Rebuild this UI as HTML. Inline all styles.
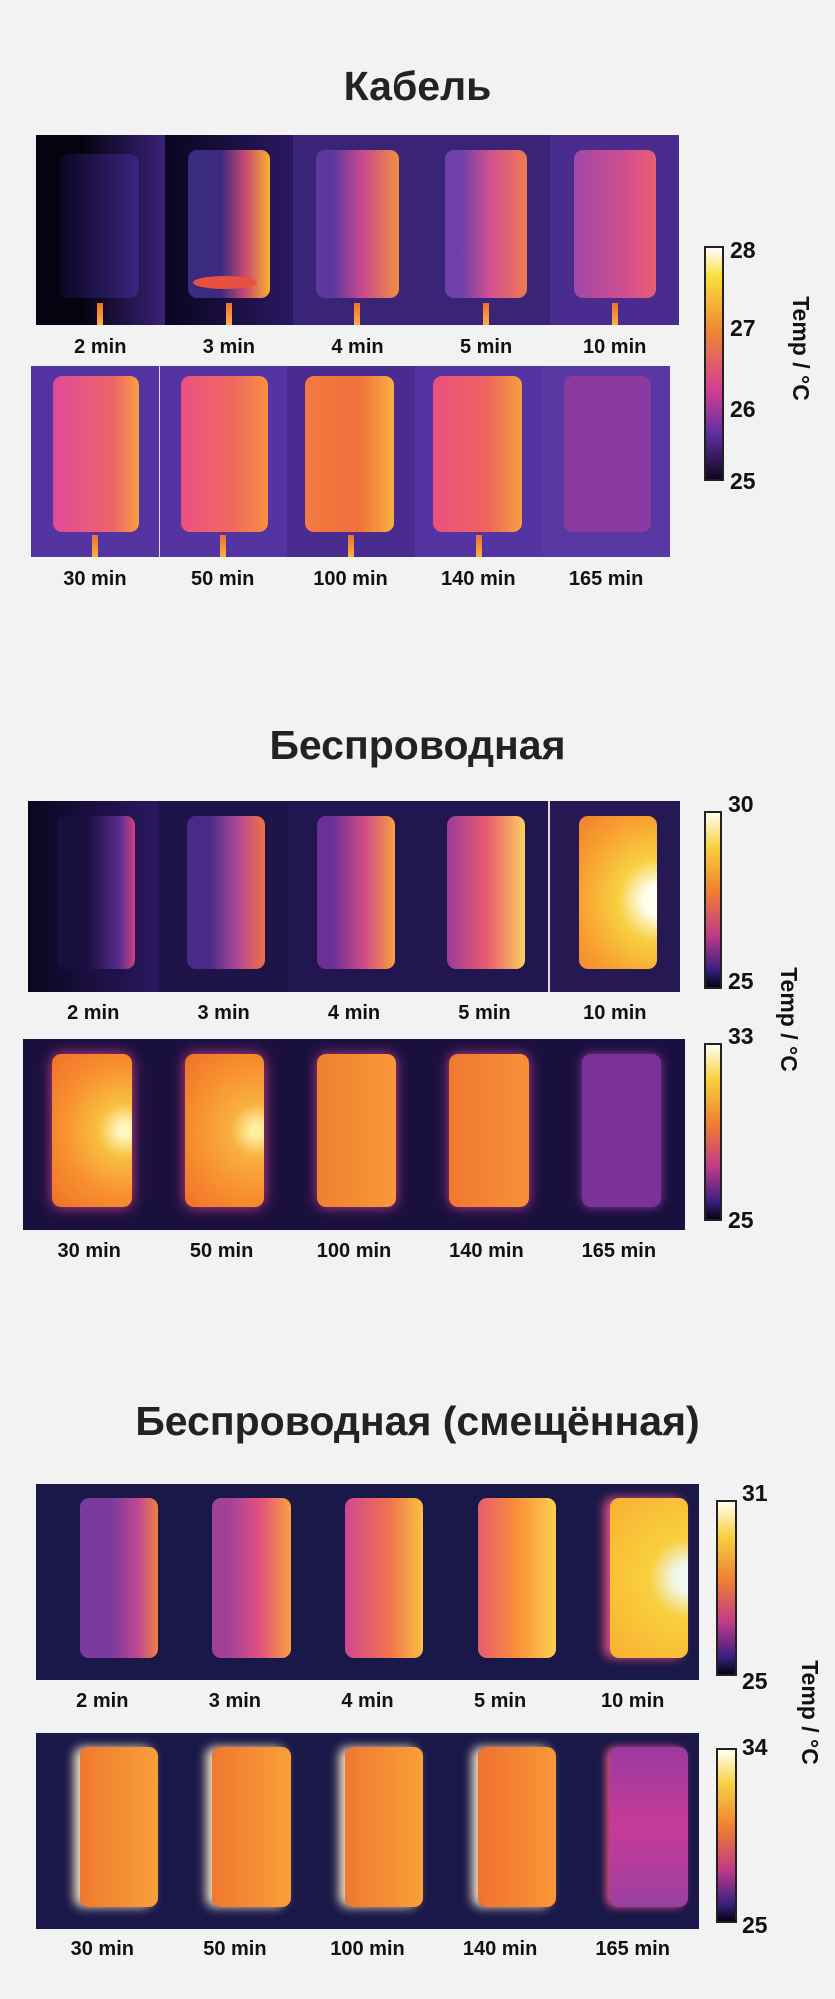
<!DOCTYPE html>
<html><head><meta charset="utf-8"><style>
body{margin:0;width:835px;height:1999px;background:#f2f2f2;position:relative;overflow:hidden;font-family:"Liberation Sans","Noto Sans CJK SC",sans-serif}
.t{position:absolute;left:0;width:835px;text-align:center;font-weight:bold;font-size:41px;color:#222}
.row{position:absolute;display:flex}
.c{flex:1;position:relative;overflow:hidden}
.p{position:absolute;border-radius:9px}
.cb{position:absolute;width:6px;height:22px;left:50%;bottom:0;margin-left:-3px;background:linear-gradient(#f07030,#ffb040)}
.lb{position:absolute;display:flex;font-weight:bold;font-size:20px;color:#111}
.lb span{flex:1;text-align:center}
.bar{position:absolute;border:2px solid #222;box-sizing:border-box}
.tk{position:absolute;font-size:23px;font-weight:bold;color:#111}
.tl{position:absolute;font-weight:bold;font-size:23px;color:#111;transform:rotate(90deg);white-space:nowrap;transform-origin:center}
.s2 .p{left:22%;width:60%;top:8%;height:80%}
.s3 .p{left:33%;width:59%;top:7%;height:82%}
</style></head><body>

<div class="t" style="top:63px">Кабель</div>
<div class="row" style="left:36px;top:135px;width:643px;height:190px;background:#4a2a8a">
 <div class="c" style="background:linear-gradient(to right,#050310 35%,#3a2278)"><div class="p" style="left:18%;width:62%;top:10%;height:76%;background:linear-gradient(to right,#0a0620,#3a2480)"></div><div class="cb"></div></div>
 <div class="c" style="background:linear-gradient(to right,#0a0520,#2a1860)"><div class="p" style="left:18%;width:64%;top:8%;height:78%;background:linear-gradient(to right,#3a2a80 40%,#c84a70 70%,#f8b030)"></div><div class="p" style="left:22%;width:50%;top:74%;height:7%;background:#e85040;border-radius:50%"></div><div class="cb"></div></div>
 <div class="c" style="background:#3a2478"><div class="p" style="left:18%;width:64%;top:8%;height:78%;background:linear-gradient(to right,#5a38a0 20%,#c84890 55%,#f09040)"></div><div class="cb"></div></div>
 <div class="c" style="background:#3a2478"><div class="p" style="left:18%;width:64%;top:8%;height:78%;background:linear-gradient(to right,#7040a8 20%,#d05090 55%,#f07a50)"></div><div class="cb"></div></div>
 <div class="c" style="background:#4a2c8e"><div class="p" style="left:18%;width:64%;top:8%;height:78%;background:linear-gradient(to right,#a048a8,#d8508c 70%,#e86070)"></div><div class="cb"></div></div>
</div>
<div class="lb" style="left:36px;top:336px;width:643px"><span>2 min</span><span>3 min</span><span>4 min</span><span>5 min</span><span>10 min</span></div>
<div class="row" style="left:31px;top:366px;width:639px;height:191px;background:#5434a0">
 <div class="c"><div class="p" style="left:17%;width:68%;top:5%;height:82%;background:linear-gradient(to right,#e04a98,#ee6468 70%,#f8a040)"></div><div class="cb"></div></div>
 <div class="c" style="border-left:1px solid #ddd"><div class="p" style="left:17%;width:68%;top:5%;height:82%;background:linear-gradient(to right,#ec5080,#f06a60 60%,#f89040)"></div><div class="cb"></div></div>
 <div class="c" style="background:#4a2c90"><div class="p" style="left:14%;width:70%;top:5%;height:82%;background:linear-gradient(to right,#f27a40,#f0703c 60%,#f8b040)"></div><div class="cb"></div></div>
 <div class="c"><div class="p" style="left:14%;width:70%;top:5%;height:82%;background:linear-gradient(to right,#ea5080,#ee6460 60%,#f6a040)"></div><div class="cb"></div></div>
 <div class="c" style="background:#5a38a4"><div class="p" style="left:17%;width:68%;top:5%;height:82%;background:#8a3aa0"></div></div>
</div>
<div class="lb" style="left:31px;top:568px;width:639px"><span>30 min</span><span>50 min</span><span>100 min</span><span>140 min</span><span>165 min</span></div>
<div class="bar" style="left:704px;top:246px;width:20px;height:235px;background:linear-gradient(#fff,#f8e040 12%,#f08a30 35%,#d84090 60%,#6030a0 80%,#100620)"></div>
<div class="tk" style="left:730px;top:237px">28</div><div class="tk" style="left:730px;top:315px">27</div><div class="tk" style="left:730px;top:396px">26</div><div class="tk" style="left:730px;top:468px">25</div>
<div class="tl" style="left:748px;top:335px">Temp / °C</div>

<div class="t s2" style="top:722px">Беспроводная</div>
<div class="row s2" style="left:28px;top:801px;width:652px;height:191px;background:#1a1040">
 <div class="c" style="background:linear-gradient(to right,#0a0620,#2a1860)"><div class="p" style="background:linear-gradient(to right,#1a1040 40%,#5a2c90 80%,#d04080)"></div></div>
 <div class="c" style="background:#1e1448"><div class="p" style="background:linear-gradient(to right,#4a2a88 30%,#b04898 65%,#f07040)"></div></div>
 <div class="c" style="background:#221650"><div class="p" style="background:linear-gradient(to right,#6a3098 20%,#d04a88 60%,#f8a040)"></div></div>
 <div class="c" style="background:#221650"><div class="p" style="background:linear-gradient(to right,#9a3a9a,#e85a70 50%,#fcd060)"></div></div>
 <div class="c" style="background:#261852;border-left:2px solid #ddd"><div class="p" style="background:radial-gradient(ellipse at 100% 55%,#fffff0 12%,#f8d040 35%,#f8a030 70%,#f08030)"></div></div>
</div>
<div class="lb" style="left:28px;top:1002px;width:652px"><span>2 min</span><span>3 min</span><span>4 min</span><span>5 min</span><span>10 min</span></div>
<div class="row s2" style="left:23px;top:1039px;width:662px;height:191px;background:#1a1040">
 <div class="c"><div class="p" style="background:radial-gradient(ellipse at 90% 50%,#fff8c0 5%,#f8c040 25%,#f89030 60%,#f07028);box-shadow:0 0 14px #d04080"></div></div>
 <div class="c"><div class="p" style="background:radial-gradient(ellipse at 90% 50%,#fff0a0 5%,#f8b040 25%,#f89030 60%,#f07028);box-shadow:0 0 14px #d04080"></div></div>
 <div class="c"><div class="p" style="background:linear-gradient(to right,#f08030,#f89838);box-shadow:0 0 12px #c04088"></div></div>
 <div class="c"><div class="p" style="background:linear-gradient(to right,#f07830,#f89038);box-shadow:0 0 12px #c04088"></div></div>
 <div class="c"><div class="p" style="background:#7a3298;box-shadow:0 0 10px #903a90"></div></div>
</div>
<div class="lb" style="left:23px;top:1240px;width:662px"><span>30 min</span><span>50 min</span><span>100 min</span><span>140 min</span><span>165 min</span></div>
<div class="bar" style="left:704px;top:811px;width:18px;height:178px;background:linear-gradient(#fffff0,#f8d040 20%,#f08030 45%,#c03a88 70%,#3a2080 90%,#050310)"></div>
<div class="bar" style="left:704px;top:1043px;width:18px;height:178px;background:linear-gradient(#fffff0,#f8d040 20%,#f08030 45%,#c03a88 70%,#3a2080 90%,#050310)"></div>
<div class="tk" style="left:728px;top:791px">30</div><div class="tk" style="left:728px;top:968px">25</div>
<div class="tk" style="left:728px;top:1023px">33</div><div class="tk" style="left:728px;top:1207px">25</div>
<div class="tl" style="left:736px;top:1006px">Temp / °C</div>

<div class="t s3" style="top:1398px">Беспроводная (смещённая)</div>
<div class="row s3" style="left:36px;top:1484px;width:663px;height:196px;background:#1a1848">
 <div class="c"><div class="p" style="background:linear-gradient(to right,#7a3aa0 40%,#c04890 75%,#f08040)"></div></div>
 <div class="c"><div class="p" style="background:linear-gradient(to right,#a04098 20%,#e05080 60%,#f8a040)"></div></div>
 <div class="c"><div class="p" style="background:linear-gradient(to right,#d04890,#f07050 55%,#f8c040)"></div></div>
 <div class="c"><div class="p" style="background:linear-gradient(to right,#e85a70,#f89038 50%,#fcd050)"></div></div>
 <div class="c"><div class="p" style="background:radial-gradient(ellipse at 100% 50%,#f0f8f0 12%,#f8d040 35%,#f8b030);box-shadow:-6px 0 10px #e05080"></div></div>
</div>
<div class="lb" style="left:36px;top:1690px;width:663px"><span>2 min</span><span>3 min</span><span>4 min</span><span>5 min</span><span>10 min</span></div>
<div class="row s3" style="left:36px;top:1733px;width:663px;height:196px;background:#1a1848">
 <div class="c"><div class="p" style="background:linear-gradient(to right,#f07830,#f8a038);box-shadow:-6px 0 10px #f0e0c0"></div></div>
 <div class="c"><div class="p" style="background:linear-gradient(to right,#f07830,#f8a038);box-shadow:-6px 0 10px #f0e0c0"></div></div>
 <div class="c"><div class="p" style="background:linear-gradient(to right,#f07830,#f8a038);box-shadow:-6px 0 10px #f0e0c0"></div></div>
 <div class="c"><div class="p" style="background:linear-gradient(to right,#f07030,#f89838);box-shadow:-6px 0 10px #f0e0c0"></div></div>
 <div class="c"><div class="p" style="background:linear-gradient(#9a3aa0,#c83a98 50%,#9a40a0);box-shadow:-4px 0 8px #e05080"></div></div>
</div>
<div class="lb" style="left:36px;top:1938px;width:663px"><span>30 min</span><span>50 min</span><span>100 min</span><span>140 min</span><span>165 min</span></div>
<div class="bar" style="left:716px;top:1500px;width:21px;height:176px;background:linear-gradient(#fffff0,#f8d040 20%,#f08030 45%,#c03a88 70%,#3a2080 90%,#050310)"></div>
<div class="bar" style="left:716px;top:1748px;width:21px;height:175px;background:linear-gradient(#fffff0,#f8d040 20%,#f08030 45%,#c03a88 70%,#3a2080 90%,#050310)"></div>
<div class="tk" style="left:742px;top:1480px">31</div><div class="tk" style="left:742px;top:1668px">25</div>
<div class="tk" style="left:742px;top:1734px">34</div><div class="tk" style="left:742px;top:1912px">25</div>
<div class="tl" style="left:757px;top:1699px">Temp / °C</div>
</body></html>
